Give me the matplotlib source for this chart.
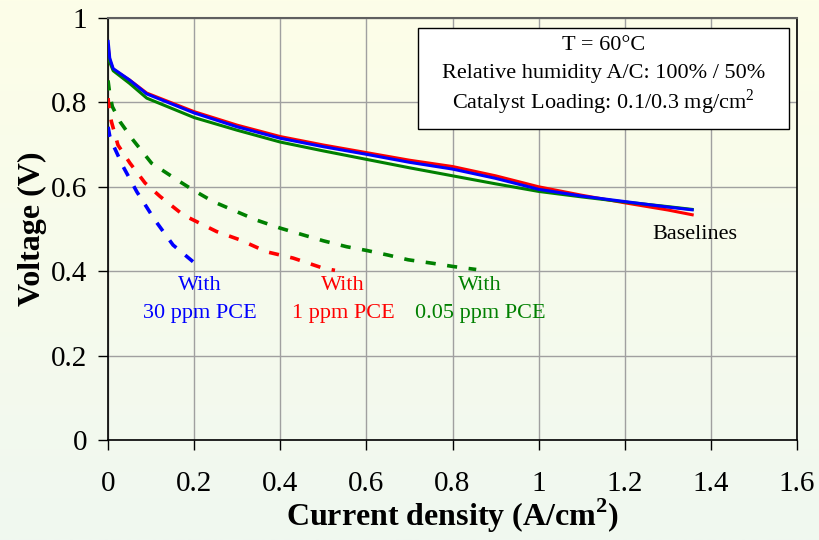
import numpy as np
import matplotlib
matplotlib.use("Agg")
import matplotlib.pyplot as plt
from matplotlib.colors import LinearSegmentedColormap
from matplotlib.patches import Rectangle

plt.rcParams["font.family"] = ["Liberation Serif", "DejaVu Serif"]
plt.rcParams["mathtext.fontset"] = "custom"
plt.rcParams["mathtext.rm"] = "Liberation Serif"
plt.rcParams["mathtext.bf"] = "Liberation Serif:bold"

# ---- polarization curves (current density A/cm2, voltage V) ----
base_x = [0, 0.004, 0.012, 0.05, 0.09, 0.2, 0.3, 0.4, 0.5, 0.6, 0.7, 0.8,
          0.9, 1.0, 1.1, 1.2, 1.3, 1.36]
base_blue = [0.948, 0.905, 0.880, 0.853, 0.820, 0.775, 0.742, 0.715, 0.695,
             0.677, 0.658, 0.642, 0.620, 0.594, 0.578, 0.565, 0.552, 0.545]
base_red = [0.935, 0.900, 0.878, 0.853, 0.822, 0.778, 0.746, 0.719, 0.699,
            0.681, 0.663, 0.648, 0.626, 0.600, 0.580, 0.562, 0.545, 0.533]
base_green = [0.925, 0.895, 0.875, 0.845, 0.810, 0.764, 0.734, 0.706, 0.685,
              0.665, 0.645, 0.626, 0.607, 0.589, 0.576, 0.564, 0.553, 0.546]

pce30_x = [0, 0.004, 0.012, 0.035, 0.067, 0.109, 0.151, 0.198]
pce30_y = [0.742, 0.720, 0.699, 0.648, 0.588, 0.521, 0.462, 0.422]

pce1_x = [0, 0.003, 0.008, 0.023, 0.051, 0.086, 0.121, 0.175, 0.252, 0.307,
          0.368, 0.43, 0.5, 0.527]
pce1_y = [0.810, 0.780, 0.754, 0.699, 0.656, 0.609, 0.577, 0.533, 0.494,
          0.474, 0.446, 0.431, 0.407, 0.402]

pce005_x = [0, 0.004, 0.010, 0.028, 0.058, 0.101, 0.125, 0.167, 0.198, 0.244,
            0.299, 0.345, 0.40, 0.453, 0.5, 0.554, 0.601, 0.651, 0.697,
            0.752, 0.802, 0.855]
pce005_y = [0.852, 0.820, 0.790, 0.754, 0.711, 0.656, 0.640, 0.612, 0.592,
            0.565, 0.541, 0.521, 0.502, 0.486, 0.472, 0.458, 0.449, 0.438,
            0.427, 0.419, 0.411, 0.404]

xticks = [0, 0.2, 0.4, 0.6, 0.8, 1, 1.2, 1.4, 1.6]
xtick_labels = ["0", "0.2", "0.4", "0.6", "0.8", "1", "1.2", "1.4", "1.6"]
yticks = [0, 0.2, 0.4, 0.6, 0.8, 1]
ytick_labels = ["0", "0.2", "0.4", "0.6", "0.8", "1"]

BLUE = "#0000FF"
RED = "#FF0000"
GREEN = "#008000"

fig = plt.figure(figsize=(8.19, 5.40), dpi=100)

# soft yellow-to-mint background
bg = fig.add_axes([0, 0, 1, 1], zorder=-10)
cmap = LinearSegmentedColormap.from_list("bg", ["#FDFEE8", "#F0F8F0"])
bg.imshow(np.linspace(0, 1, 256).reshape(-1, 1), aspect="auto", cmap=cmap,
          extent=[0, 1, 0, 1])
bg.axis("off")

ax = fig.add_axes([0.1319, 0.1852, 0.8413, 0.7815])
ax.set_facecolor("none")

ax.plot(base_x, base_red, color=RED, lw=2.2, solid_capstyle="butt", zorder=3)
ax.plot(base_x, base_green, color=GREEN, lw=2.2, solid_capstyle="butt", zorder=3)
ax.plot(base_x, base_blue, color=BLUE, lw=2.2, solid_capstyle="butt", zorder=4)

dash = (0, (2.8, 3.2))
ax.plot(pce005_x, pce005_y, color=GREEN, lw=2.6, ls=dash, zorder=3)
ax.plot(pce1_x, pce1_y, color=RED, lw=2.6, ls=dash, zorder=3)
ax.plot(pce30_x, pce30_y, color=BLUE, lw=2.6, ls=dash, zorder=3)

ax.set_xlim(0, 1.6)
ax.set_ylim(0, 1)
ax.set_xticks(xticks)
ax.set_xticklabels(xtick_labels)
ax.set_yticks(yticks)
ax.set_yticklabels(ytick_labels)
ax.tick_params(axis="both", direction="out", length=7, width=1, labelsize=21)
ax.tick_params(axis="x", pad=15)
ax.tick_params(axis="y", pad=8)
ax.grid(True, color="#A0A0A0", lw=1)
ax.set_axisbelow(True)

for side in ["left", "bottom", "right"]:
    ax.spines[side].set_color("black")
    ax.spines[side].set_linewidth(1.2)
ax.spines["top"].set_color("#606060")
ax.spines["top"].set_linewidth(1.5)

ax.set_xlabel(r"Current density (A/cm$^\mathbf{2}$)", fontsize=23,
              fontweight="bold", labelpad=0)
ax.set_ylabel("Voltage (V)", fontsize=23, fontweight="bold", labelpad=3)

# curve labels
ax.text(0.213, 0.367, "With", color=BLUE, fontsize=16, ha="center", va="center")
ax.text(0.213, 0.300, "30 ppm PCE", color=BLUE, fontsize=16, ha="center", va="center")
ax.text(0.546, 0.367, "With", color=RED, fontsize=16, ha="center", va="center")
ax.text(0.546, 0.300, "1 ppm PCE", color=RED, fontsize=16, ha="center", va="center")
ax.text(0.864, 0.367, "With", color=GREEN, fontsize=16, ha="center", va="center")
ax.text(0.864, 0.300, "0.05 ppm PCE", color=GREEN, fontsize=16, ha="center", va="center")
ax.text(1.363, 0.486, "Baselines", color="black", fontsize=16, ha="center", va="center")

# operating conditions box
ax.add_patch(Rectangle((0.45, 0.737), 0.538, 0.239, transform=ax.transAxes,
                       facecolor="white", edgecolor="black", lw=1, zorder=5))
box_lines = ["T = 60°C",
             "Relative humidity A/C: 100% / 50%",
             r"Catalyst Loading: 0.1/0.3 mg/cm$^2$"]
for i, line in enumerate(box_lines):
    ax.text(0.719, 0.935 - i * 0.067, line, transform=ax.transAxes, fontsize=16,
            ha="center", va="center", zorder=6)

plt.savefig("out.png", dpi=100)
